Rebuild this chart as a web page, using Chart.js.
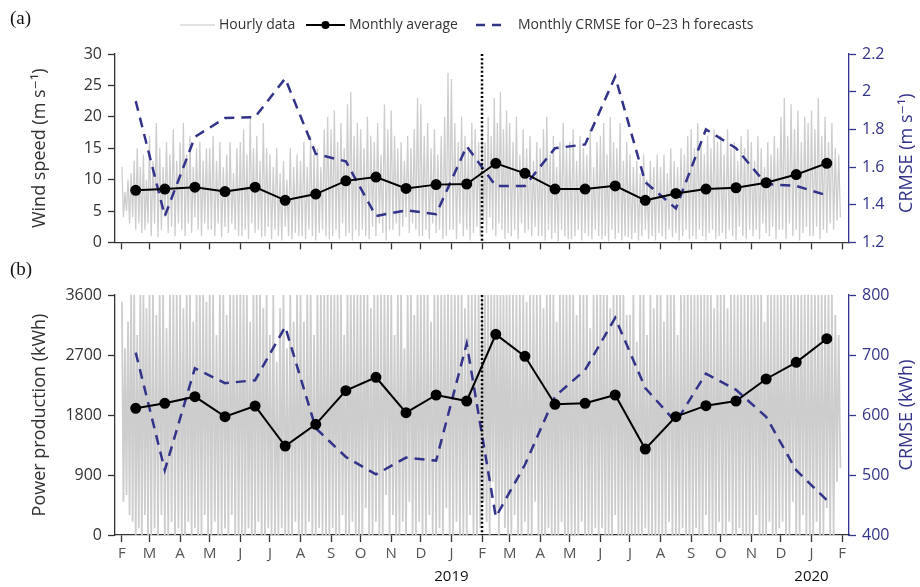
<!DOCTYPE html>
<html>
<head>
<meta charset="utf-8">
<script src="https://cdn.jsdelivr.net/npm/chart.js@4.4.1/dist/chart.umd.min.js"></script>
<style>
    html, body { margin: 0; padding: 0; background: #fff; }
    #wrap { position: relative; width: 920px; height: 587px; }
    #panelA { position: absolute; left: 0; top: 0; }
    #panelB { position: absolute; left: 0; top: 258px; }
</style>
</head>
<body>
<div id="wrap">
    <canvas id="panelA" width="920" height="258"></canvas>
    <canvas id="panelB" width="920" height="329"></canvas>
</div>
<script>
// Values (Feb 2018 - Jan 2020)
const monthLetters = ['F','M','A','M','J','J','A','S','O','N','D','J','F','M','A','M','J','J','A','S','O','N','D','J','F'];
const yearLabels = [{ month: 11, text: '2019' }, { month: 23, text: '2020' }];

const windTicks = [0, 5, 10, 15, 20, 25, 30];
const windCrmseTicks = [1.2, 1.4, 1.6, 1.8, 2, 2.2];
const powerTicks = [0, 900, 1800, 2700, 3600];
const powerCrmseTicks = [400, 500, 600, 700, 800];

const windMonthlyAvg = [8.3, 8.5, 8.8, 8.1, 8.8, 6.7, 7.7, 9.8, 10.4, 8.6, 9.2, 9.3,
                        12.6, 11.0, 8.5, 8.5, 9.0, 6.7, 7.8, 8.5, 8.7, 9.5, 10.8, 12.6];
const windCrmse = [1.95, 1.34, 1.76, 1.86, 1.865, 2.07, 1.67, 1.63, 1.34, 1.37, 1.35, 1.71,
                   1.50, 1.50, 1.70, 1.72, 2.08, 1.52, 1.38, 1.80, 1.70, 1.51, 1.50, 1.45];
const powerMonthlyAvg = [1900, 1975, 2075, 1775, 1935, 1335, 1660, 2165, 2365, 1835, 2100, 2010,
                         3010, 2680, 1960, 1975, 2100, 1290, 1775, 1940, 2010, 2340, 2590, 2945];
const powerCrmse = [704, 508, 678, 653, 658, 747, 578, 530, 501, 529, 524, 719,
                    430, 517, 631, 675, 762, 645, 588, 669, 642, 597, 508, 458];

// hourly series, sampled as alternating highs / lows (9 of each per month)
const windHourlyPeaks = [
    [12, 8, 10, 11, 13, 15, 12, 14, 10],
    [17, 13, 19, 15, 12, 16, 14, 18, 13],
    [16, 19, 14, 17, 12, 15, 16, 13, 15],
    [15, 17, 13, 16, 12, 14, 16, 11, 15],
    [16, 18, 14, 20, 15, 17, 13, 19, 15],
    [14, 12, 15, 11, 13, 10, 15, 12, 14],
    [13, 16, 12, 17, 14, 15, 12, 18, 20],
    [18, 21, 16, 19, 15, 22, 24, 17, 19],
    [18, 15, 20, 17, 16, 19, 14, 22, 18],
    [21, 17, 15, 16, 13, 17, 15, 18, 23],
    [22, 17, 19, 15, 18, 14, 17, 20, 27],
    [26, 19, 16, 20, 17, 15, 19, 18, 16],
    [18, 16, 20, 17, 23, 19, 24, 18, 21],
    [19, 16, 20, 14, 18, 15, 17, 13, 16],
    [15, 18, 20, 14, 17, 12, 16, 19, 15],
    [16, 18, 13, 17, 15, 14, 18, 12, 16],
    [17, 19, 14, 20, 16, 15, 19, 13, 16],
    [14, 12, 13, 11, 14, 10, 13, 12, 14],
    [12, 14, 11, 15, 13, 12, 15, 14, 17],
    [18, 15, 19, 16, 14, 17, 15, 18, 16],
    [17, 14, 18, 15, 16, 13, 17, 15, 18],
    [16, 13, 17, 15, 12, 16, 14, 17, 15],
    [20, 23, 17, 22, 18, 21, 16, 20, 19],
    [21, 18, 23, 17, 20, 16, 19, 15, 14]
];
const windHourlyTroughs = [
    [4, 5, 3, 4, 2, 3, 1.5, 2, 3],
    [1, 3, 0.8, 2, 4, 1.5, 2.5, 1, 3],
    [2, 1, 3, 1.5, 4, 2, 1, 3, 2],
    [2, 1, 3, 0.8, 2.5, 1.5, 3, 2, 1],
    [1, 2, 0.5, 3, 1.5, 2, 0.8, 1, 2.5],
    [0.5, 2, 1, 0.3, 2.5, 1, 0.5, 1.5, 1],
    [1, 0.5, 2, 1, 0.3, 1.5, 2, 1, 0.5],
    [1, 2, 0.5, 3, 1, 1.5, 0.3, 2, 1],
    [2, 1, 0.5, 2.5, 1, 3, 1.5, 0.3, 2],
    [2, 3, 1, 2.5, 4, 1.5, 3, 2, 1],
    [1, 2, 0.5, 3, 1.5, 2, 0.5, 1, 2],
    [2, 0.5, 3, 1, 2, 0.3, 1.5, 2.5, 1],
    [3, 1.5, 4, 2, 1, 3, 2, 0.5, 1.5],
    [1, 2, 0.5, 3, 1.5, 2, 1, 2.5, 1],
    [1, 0.3, 2, 0.5, 1.5, 0.2, 2, 1, 0.5],
    [0.5, 1, 2, 0.3, 1.5, 1, 0.5, 2, 1],
    [0.5, 1, 0.2, 2, 0.5, 1.5, 0.3, 1, 0.8],
    [0.5, 1.5, 0.3, 1, 2, 0.5, 1, 0.3, 1.5],
    [1, 0.5, 2, 0.8, 1.5, 0.3, 1, 2, 0.5],
    [1, 0.5, 2, 1, 0.3, 1.5, 2, 0.5, 1],
    [1.5, 0.5, 2, 1, 0.3, 2.5, 1, 0.5, 2],
    [1, 2, 0.5, 3, 1.5, 1, 2.5, 0.5, 2],
    [2, 0.5, 3, 1, 2, 0.3, 1.5, 2.5, 1],
    [1, 2.5, 0.5, 2, 1.5, 3, 2, 3.5, 4]
];
const powerHourlyPeaks = [
    [3500, 2800, 3200, 3600, 3600, 3000, 3600, 3600, 3400],
    [3600, 3600, 3300, 3600, 3600, 3100, 3600, 3600, 3600],
    [3600, 3400, 3600, 3600, 3200, 3600, 3600, 3600, 3500],
    [3600, 3600, 3000, 3600, 3600, 3300, 3600, 3600, 3600],
    [3600, 3600, 3600, 3200, 3600, 3600, 3600, 3400, 3600],
    [3000, 3600, 2600, 3400, 3600, 2800, 3600, 3200, 3600],
    [3600, 3200, 3600, 3600, 3000, 3600, 3600, 3600, 3600],
    [3600, 3600, 3600, 3600, 3000, 3600, 3600, 3600, 3600],
    [3600, 3600, 3600, 3400, 3600, 3600, 3600, 3600, 3600],
    [3600, 3000, 3600, 3600, 2800, 3600, 3600, 3300, 3600],
    [3600, 3600, 3600, 3200, 3600, 3600, 3600, 3600, 3600],
    [3600, 3600, 3600, 3600, 3400, 3600, 3600, 3600, 3600],
    [3600, 3600, 3600, 3600, 3600, 3600, 3600, 3600, 3600],
    [3600, 3600, 3600, 3600, 3600, 3500, 3600, 3600, 3600],
    [3600, 3400, 3600, 3600, 3600, 3200, 3600, 3600, 3600],
    [3600, 3600, 3300, 3600, 3600, 3600, 3100, 3600, 3600],
    [3600, 3600, 3600, 3400, 3600, 3600, 3600, 3600, 3300],
    [3300, 3600, 2900, 3600, 3600, 3000, 3600, 3400, 3600],
    [3600, 3200, 3600, 3600, 3600, 3000, 3600, 3600, 3600],
    [3600, 3600, 3600, 3600, 3600, 3600, 3600, 3400, 3600],
    [3600, 3600, 3400, 3600, 3600, 3600, 3600, 3600, 3600],
    [3600, 3600, 3600, 3600, 3200, 3600, 3600, 3600, 3600],
    [3600, 3600, 3600, 3600, 3600, 3600, 3600, 3600, 3600],
    [3600, 3600, 3600, 3600, 3600, 3600, 3600, 3300, 3000]
];
const powerHourlyTroughs = [
    [500, 600, 300, 200, 0, 100, 0, 300, 0],
    [0, 100, 0, 300, 0, 0, 200, 0, 100],
    [0, 0, 200, 0, 100, 0, 0, 300, 0],
    [0, 200, 0, 0, 100, 0, 300, 0, 0],
    [0, 0, 100, 0, 0, 200, 0, 0, 100],
    [0, 0, 0, 100, 0, 0, 0, 200, 0],
    [0, 0, 200, 0, 0, 100, 0, 0, 0],
    [100, 0, 0, 300, 0, 0, 200, 0, 0],
    [0, 400, 0, 0, 200, 0, 0, 600, 0],
    [300, 0, 0, 200, 0, 500, 0, 0, 200],
    [0, 0, 300, 0, 0, 100, 0, 400, 0],
    [0, 200, 0, 0, 0, 300, 0, 0, 100],
    [500, 200, 0, 800, 300, 0, 400, 100, 0],
    [0, 300, 0, 0, 200, 0, 0, 500, 0],
    [0, 0, 100, 0, 0, 0, 200, 0, 0],
    [0, 0, 0, 200, 0, 0, 0, 100, 0],
    [100, 0, 0, 0, 300, 0, 0, 0, 0],
    [0, 0, 0, 0, 100, 0, 0, 0, 0],
    [0, 0, 200, 0, 0, 0, 100, 0, 0],
    [0, 100, 0, 0, 300, 0, 0, 0, 200],
    [0, 0, 200, 0, 0, 100, 0, 0, 0],
    [0, 300, 0, 0, 0, 200, 0, 0, 100],
    [200, 0, 0, 500, 0, 0, 300, 0, 0],
    [0, 200, 0, 0, 400, 0, 0, 800, 1000]
];

const NAVY = '#33338a';
const GREY_TEXT = '#333';
const FONT = "'Open Sans', 'DejaVu Sans', sans-serif";
const SPLIT_DAY = 365; // 1 Feb 2019

// days since 1 Feb 2018 for each month start
const DAY = 86400000;
const t0 = Date.UTC(2018, 1, 1);
const monthStarts = monthLetters.map((_, i) => (Date.UTC(2018, 1 + i, 1) - t0) / DAY);

function monthly(values) {
    return values.map((v, m) => ({ x: (monthStarts[m] + monthStarts[m + 1]) / 2, y: v }));
}

function hourly(peaks, troughs) {
    const pts = [];
    peaks.forEach((row, m) => {
        const s = monthStarts[m], len = monthStarts[m + 1] - s;
        row.forEach((p, k) => {
            pts.push({ x: s + k * len / 9, y: p });
            pts.push({ x: s + (k + 0.5) * len / 9, y: troughs[m][k] });
        });
    });
    return pts;
}

function fixedTicks(list) {
    return scale => { scale.ticks = list.map(v => ({ value: v })); };
}

// Overlay: split line, axis titles, panel letter, legend, years
function overlay(cfg) {
    return {
        id: 'overlay',
        afterDatasetsDraw(chart) {
            const { ctx, chartArea, scales } = chart;
            const x = scales.x.getPixelForValue(SPLIT_DAY);
            ctx.save();
            ctx.strokeStyle = '#000';
            ctx.lineWidth = 2.5;
            ctx.setLineDash([2, 2.2]);
            ctx.beginPath();
            ctx.moveTo(x, chartArea.top);
            ctx.lineTo(x, chartArea.bottom);
            ctx.stroke();
            ctx.restore();
        },
        afterDraw(chart) {
            const { ctx, chartArea, scales } = chart;
            const midY = (chartArea.top + chartArea.bottom) / 2;
            ctx.save();
            ctx.textAlign = 'center';
            ctx.textBaseline = 'middle';
            ctx.font = '18px ' + FONT;

            ctx.fillStyle = GREY_TEXT;
            ctx.save();
            ctx.translate(40, midY);
            ctx.rotate(-Math.PI / 2);
            ctx.fillText(cfg.leftTitle, 0, 0);
            ctx.restore();

            ctx.fillStyle = NAVY;
            ctx.save();
            ctx.translate(907, midY + cfg.rightShift);
            ctx.rotate(-Math.PI / 2);
            ctx.fillText(cfg.rightTitle, 0, 0);
            ctx.restore();

            // panel letter
            ctx.fillStyle = '#111';
            ctx.font = "19px 'Liberation Serif', 'DejaVu Serif', serif";
            ctx.textAlign = 'left';
            ctx.fillText(cfg.letter, 10, cfg.letterY);

            if (cfg.legend) {
                const ly = 25;
                ctx.font = '14px ' + FONT;
                ctx.fillStyle = GREY_TEXT;
                ctx.textAlign = 'left';
                ctx.strokeStyle = '#c4c4c4';
                ctx.lineWidth = 1;
                ctx.beginPath(); ctx.moveTo(180, ly); ctx.lineTo(215, ly); ctx.stroke();
                ctx.fillText('Hourly data', 219, ly);
                ctx.strokeStyle = '#000';
                ctx.lineWidth = 2;
                ctx.beginPath(); ctx.moveTo(306, ly); ctx.lineTo(345, ly); ctx.stroke();
                ctx.beginPath(); ctx.arc(325.5, ly, 4, 0, Math.PI * 2); ctx.fillStyle = '#000'; ctx.fill();
                ctx.fillStyle = GREY_TEXT;
                ctx.fillText('Monthly average', 349, ly);
                ctx.strokeStyle = NAVY;
                ctx.lineWidth = 2.5;
                ctx.setLineDash([9, 7]);
                ctx.beginPath(); ctx.moveTo(476, ly); ctx.lineTo(505, ly); ctx.stroke();
                ctx.setLineDash([]);
                ctx.fillText('Monthly CRMSE for 0\u201323 h forecasts', 518, ly);
            }

            if (cfg.years) {
                ctx.font = '15px ' + FONT;
                ctx.fillStyle = '#111';
                ctx.textAlign = 'center';
                yearLabels.forEach(y => {
                    ctx.fillText(y.text, scales.x.getPixelForValue(monthStarts[y.month]), chartArea.bottom + 42);
                });
            }
            ctx.restore();
        }
    };
}

function makePanel(id, cfg) {
    return new Chart(document.getElementById(id), {
        type: 'line',
        data: {
            datasets: [
                {
                    label: 'Monthly average',
                    data: monthly(cfg.avg),
                    borderColor: '#000',
                    backgroundColor: '#000',
                    borderWidth: 2,
                    pointRadius: 4.5,
                    yAxisID: 'y',
                    order: 0
                },
                {
                    label: 'Monthly CRMSE for 0\u201323 h forecasts',
                    data: monthly(cfg.crmse),
                    borderColor: NAVY,
                    borderWidth: 2.5,
                    borderDash: [10, 7],
                    pointRadius: 0,
                    yAxisID: 'y2',
                    order: 1
                },
                {
                    label: 'Hourly data',
                    data: hourly(cfg.peaks, cfg.troughs),
                    borderColor: '#cdcdcd',
                    borderWidth: cfg.hourlyWidth,
                    pointRadius: 0,
                    yAxisID: 'y',
                    order: 2
                }
            ]
        },
        options: {
            responsive: false,
            animation: false,
            events: [],
            layout: { padding: { top: cfg.top, left: 0, right: 0, bottom: 0 } },
            plugins: { legend: { display: false }, tooltip: { enabled: false } },
            scales: {
                x: {
                    type: 'linear',
                    min: -7,
                    max: 737,
                    afterBuildTicks: fixedTicks(monthStarts),
                    afterFit: s => { s.height = cfg.xHeight; },
                    ticks: {
                        display: cfg.xLabels,
                        autoSkip: false,
                        maxRotation: 0,
                        padding: 3,
                        color: '#555',
                        font: { family: FONT, size: 15 },
                        callback: (v, i) => monthLetters[i]
                    },
                    grid: { drawOnChartArea: false, tickLength: 7, tickColor: '#333', tickWidth: 1.3 },
                    border: { color: '#333', width: 1.3 }
                },
                y: {
                    position: 'left',
                    min: cfg.yTicks[0],
                    max: cfg.yTicks[cfg.yTicks.length - 1],
                    afterBuildTicks: fixedTicks(cfg.yTicks),
                    afterFit: s => { s.width = 115; },
                    ticks: {
                        color: GREY_TEXT, padding: 6, font: { family: FONT, size: 16 },
                        callback: v => String(v)
                    },
                    grid: { drawOnChartArea: false, tickLength: 7, tickColor: '#333', tickWidth: 1.3 },
                    border: { color: '#333', width: 1.3 }
                },
                y2: {
                    position: 'right',
                    min: cfg.y2Ticks[0],
                    max: cfg.y2Ticks[cfg.y2Ticks.length - 1],
                    afterBuildTicks: fixedTicks(cfg.y2Ticks),
                    afterFit: s => { s.width = 71; },
                    ticks: {
                        color: NAVY, padding: 6, font: { family: FONT, size: 16 },
                        callback: v => String(+v.toFixed(1))
                    },
                    grid: { drawOnChartArea: false, tickLength: 7, tickColor: NAVY, tickWidth: 1.3 },
                    border: { color: NAVY, width: 1.3 }
                }
            }
        },
        plugins: [overlay(cfg)]
    });
}

makePanel('panelA', {
    avg: windMonthlyAvg, crmse: windCrmse, peaks: windHourlyPeaks, troughs: windHourlyTroughs,
    yTicks: windTicks, y2Ticks: windCrmseTicks, hourlyWidth: 1.3,
    top: 54, xHeight: 7, xLabels: false,
    leftTitle: 'Wind speed (m s\u207B\u00B9)', rightTitle: 'CRMSE (m s\u207B\u00B9)', rightShift: 5,
    letter: '(a)', letterY: 19, legend: true, years: false
});

makePanel('panelB', {
    avg: powerMonthlyAvg, crmse: powerCrmse, peaks: powerHourlyPeaks, troughs: powerHourlyTroughs,
    yTicks: powerTicks, y2Ticks: powerCrmseTicks, hourlyWidth: 1.8,
    top: 37, xHeight: 52, xLabels: true,
    leftTitle: 'Power production (kWh)', rightTitle: 'CRMSE (kWh)', rightShift: 0,
    letter: '(b)', letterY: 12, legend: false, years: true
});
</script>
</body>
</html>
